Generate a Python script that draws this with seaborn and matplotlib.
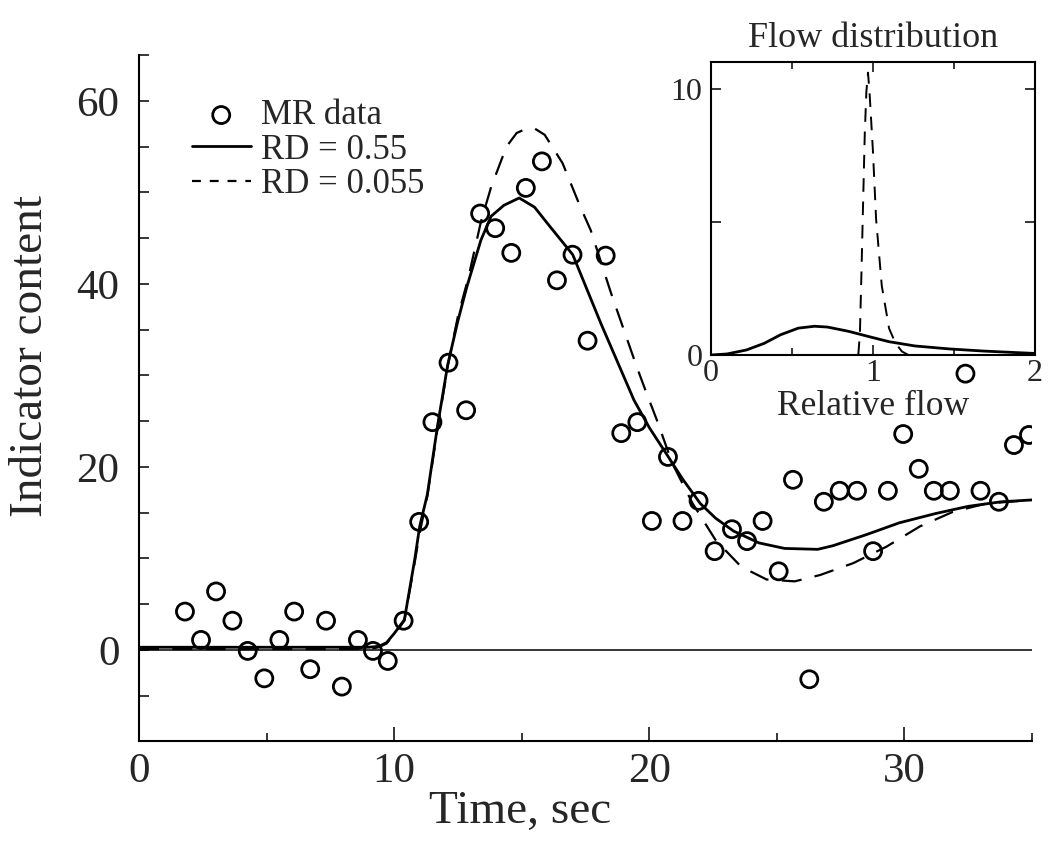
import matplotlib
matplotlib.use("Agg")
import matplotlib.pyplot as plt
import seaborn as sns
from matplotlib.ticker import MultipleLocator

# MR data (indicator content vs time)
t_mr = [1.80, 2.43, 3.02, 3.66, 4.26, 4.91, 5.50, 6.08, 6.71, 7.33, 7.95, 8.58, 9.17, 9.75, 10.37,
        10.98, 11.50, 12.13, 12.82, 13.37, 13.96, 14.59, 15.16, 15.79, 16.38, 16.99, 17.58, 18.29,
        18.90, 19.53, 20.10, 20.73, 21.30, 21.93, 22.56, 23.24, 23.83, 24.44, 25.07, 25.63, 26.27,
        26.84, 27.46, 28.14, 28.77, 29.35, 29.95, 30.56, 31.15, 31.78, 32.39, 32.98, 33.70, 34.29, 34.88]
y_mr = [4.2, 1.1, 6.4, 3.2, -0.1, -3.1, 1.1, 4.2, -2.1, 3.2, -4.0, 1.1, -0.1, -1.2, 3.2,
        14.0, 24.9, 31.4, 26.2, 47.7, 46.1, 43.4, 50.5, 53.4, 40.4, 43.2, 33.8, 43.1,
        23.7, 24.9, 14.1, 21.1, 14.1, 16.3, 10.8, 13.2, 11.9, 14.1, 8.6, 18.6, -3.2,
        16.2, 17.4, 17.4, 10.8, 17.4, 23.6, 19.8, 17.4, 17.4, 30.2, 17.4, 16.2, 22.4, 23.5]

# model fit, RD = 0.55
t_rd1 = [0, 9.0, 9.4, 9.7, 10.0, 10.4, 10.8, 11.0, 11.3, 11.7, 12.1, 12.5, 12.85, 13.4, 13.8,
         14.3, 14.9, 15.5, 16.1, 17.0, 18.1, 19.4, 20.0, 20.7, 21.3, 22.0, 22.6, 23.3, 24.3,
         25.3, 26.6, 27.2, 28.5, 29.8, 31.2, 32.5, 33.8, 35.0]
y_rd1 = [0.3, 0.3, 0.4, 0.8, 1.8, 3.3, 9.8, 13.5, 17.0, 24.5, 31.2, 36.0, 39.7, 44.8, 47.4,
         48.6, 49.4, 48.4, 46.3, 43.2, 35.7, 27.3, 24.3, 21.3, 18.7, 16.0, 14.4, 13.0, 11.7,
         11.1, 11.0, 11.4, 12.6, 13.9, 14.9, 15.7, 16.2, 16.4]

# model fit, RD = 0.055
t_rd2 = [0, 9.0, 9.4, 9.7, 10.0, 10.4, 10.8, 11.0, 11.3, 11.7, 12.1, 12.5, 12.9, 13.4, 13.8,
         14.4, 14.8, 15.2, 15.5, 15.9, 16.6, 17.3, 17.7, 18.5, 19.5, 19.9, 20.3, 20.9, 21.7,
         22.6, 23.6, 24.6, 25.7, 26.7, 28.0, 29.3, 30.6, 31.9, 33.2, 35.0]
y_rd2 = [0.1, 0.1, 0.3, 0.7, 1.7, 3.2, 9.5, 12.8, 16.8, 24.2, 31.0, 36.5, 40.6, 46.8, 50.6,
         55.0, 56.5, 57.0, 57.0, 56.3, 53.2, 48.4, 45.9, 39.0, 31.0, 28.0, 25.1, 20.4, 16.0,
         12.0, 9.1, 7.7, 7.5, 8.2, 9.5, 11.3, 13.5, 15.1, 16.0, 16.4]

# inset: flow distributions
flow_rd1 = [0, 0.1, 0.22, 0.33, 0.43, 0.54, 0.64, 0.72, 0.85, 0.97, 1.1, 1.26, 1.47, 1.68, 1.89, 2.0]
dens_rd1 = [0, 0.04, 0.19, 0.44, 0.76, 1.01, 1.08, 1.05, 0.89, 0.70, 0.50, 0.34, 0.23, 0.15, 0.09, 0.06]
flow_rd2 = [0.91, 0.92, 0.93, 0.94, 0.95, 0.96, 0.97, 0.98, 1.0, 1.02, 1.055, 1.1, 1.14, 1.18, 1.22]
dens_rd2 = [0, 0.8, 3.2, 5.8, 8.3, 9.9, 10.6, 9.8, 7.7, 5.1, 2.6, 1.0, 0.44, 0.13, 0]

sns.set_style("ticks")
plt.rcParams['font.family'] = ['Liberation Serif', 'DejaVu Serif']

fig = plt.figure(figsize=(10.5, 8.59), dpi=100)
ax = fig.add_axes([0.1324, 0.1368, 0.8505, 0.7989])

ax.axhline(0, color='black', lw=1.1, zorder=1)
sns.lineplot(x=t_rd1, y=y_rd1, ax=ax, color='black', lw=2.0, label='RD = 0.55',
             sort=False, estimator=None)
sns.lineplot(x=t_rd2, y=y_rd2, ax=ax, color='black', lw=1.6, linestyle=(0, (9, 6)),
             label='RD = 0.055', sort=False, estimator=None)
sns.scatterplot(x=t_mr, y=y_mr, ax=ax, marker='o', s=150, facecolor='none',
                edgecolor='black', linewidth=2, label='MR data', zorder=3)

ax.set_xlim(0, 35)
ax.set_ylim(-10, 65)
ax.xaxis.set_major_locator(MultipleLocator(10))
ax.xaxis.set_minor_locator(MultipleLocator(5))
ax.yaxis.set_major_locator(MultipleLocator(20))
ax.yaxis.set_minor_locator(MultipleLocator(5))
ax.tick_params(which='both', direction='in', width=1.1, labelsize=31, color='black')
ax.tick_params(axis='x', which='major', length=10, pad=8)
ax.tick_params(axis='x', which='minor', length=6)
ax.tick_params(axis='y', which='both', length=7, pad=14)
sns.despine(ax=ax)
for sp in ['left', 'bottom']:
    ax.spines[sp].set_linewidth(1.5)
    ax.spines[sp].set_color('black')

ax.set_xlabel('Time, sec', fontsize=34)
ax.set_ylabel('Indicator content', fontsize=34)
ax.xaxis.set_label_coords(0.427, -0.072)
ax.yaxis.set_label_coords(-0.097, 0.562)

handles, labels = ax.get_legend_handles_labels()
order = [labels.index(l) for l in ['MR data', 'RD = 0.55', 'RD = 0.055']]
leg = ax.legend([handles[i] for i in order], [labels[i] for i in order],
                loc='upper left', bbox_to_anchor=(0.059, 0.936), frameon=False,
                fontsize=25, borderpad=0, borderaxespad=0, handlelength=1.7,
                handletextpad=0.3, labelspacing=0.04)
leg.legend_handles[2].set_dashes((4, 4))

# inset
ins = fig.add_axes([0.677, 0.5867, 0.3086, 0.3411])
sns.lineplot(x=flow_rd1, y=dens_rd1, ax=ins, color='black', lw=2.0, sort=False, estimator=None)
sns.lineplot(x=flow_rd2, y=dens_rd2, ax=ins, color='black', lw=1.4, linestyle=(0, (7, 5)),
             sort=False, estimator=None)
ins.set_xlim(0, 2)
ins.set_ylim(0, 11)
ins.set_xticks([0, 1, 2])
ins.set_xticklabels(['0', '1', '2'])
ins.xaxis.set_minor_locator(MultipleLocator(0.5))
ins.set_yticks([0, 5, 10])
ins.set_yticklabels(['0', '', '10'])
ins.tick_params(which='both', direction='in', top=True, right=True, width=1.1,
                labelsize=23, color='black')
ins.tick_params(which='major', length=7, pad=6)
ins.tick_params(axis='x', which='major', pad=3)
ins.tick_params(which='minor', length=5)
for sp in ins.spines.values():
    sp.set_linewidth(1.5)
    sp.set_color('black')
ins.set_title('Flow distribution', fontsize=26, pad=11)
ins.set_xlabel('Relative flow', fontsize=25.5, labelpad=1)
ins.set_ylabel('')

fig.savefig('out.png', dpi=100)
